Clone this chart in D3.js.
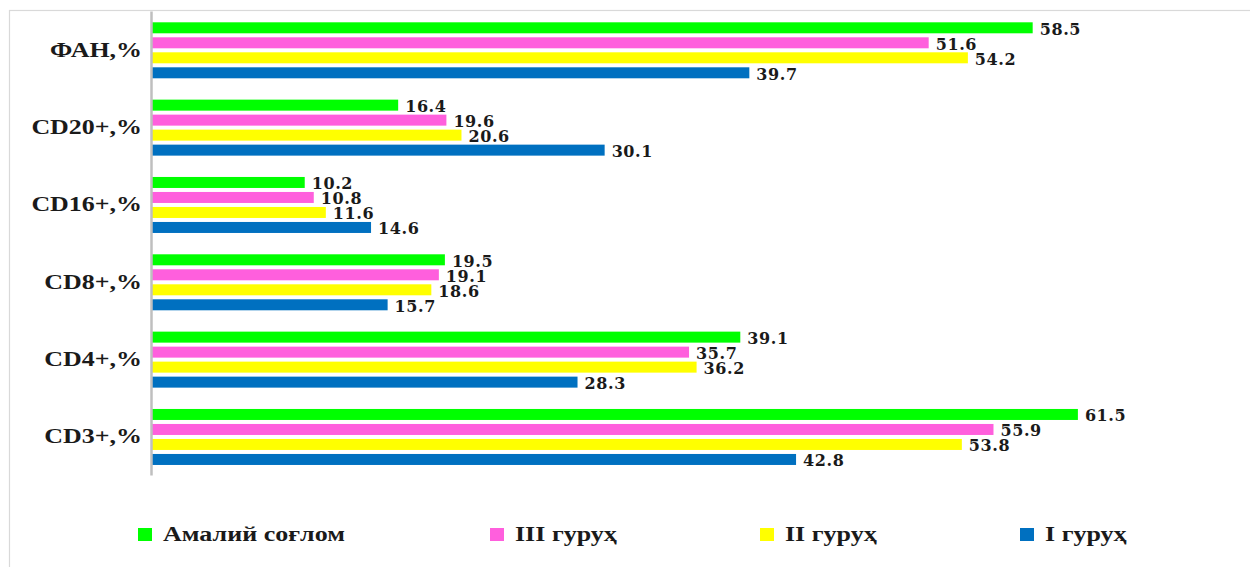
<!DOCTYPE html>
<html>
<head>
<meta charset="utf-8">
<script src="https://cdn.jsdelivr.net/npm/d3@7"></script>
<style>
  html, body { margin: 0; padding: 0; background: #fff; }
  svg { display: block; }
</style>
</head>
<body>
<svg id="chart" width="1250" height="567"></svg>
<script>
// Indicators, listed top to bottom
const categories = ["ФАН,%", "CD20+,%", "CD16+,%", "CD8+,%", "CD4+,%", "CD3+,%"];
// Groups, in the order their bars stack inside each indicator
const seriesNames = ["Амалий соғлом", "III гуруҳ", "II гуруҳ", "I гуруҳ"];
const seriesColors = ["#00FF00", "#FF5FDD", "#FFFF00", "#0070C0"];
// Values per group, aligned with categories
const healthy = [58.5, 16.4, 10.2, 19.5, 39.1, 61.5];
const group3  = [51.6, 19.6, 10.8, 19.1, 35.7, 55.9];
const group2  = [54.2, 20.6, 11.6, 18.6, 36.2, 53.8];
const group1  = [39.7, 30.1, 14.6, 15.7, 28.3, 42.8];
const seriesValues = [healthy, group3, group2, group1];

const svg = d3.select("#chart");

// Outer frame
svg.append("rect")
  .attr("x", 9.5).attr("y", 10.5)
  .attr("width", 1300).attr("height", 600)
  .attr("fill", "none").attr("stroke", "#D9D9D9").attr("stroke-width", 1.2);

const x = d3.scaleLinear().domain([0, 70]).range([151, 1206]);
const y0 = d3.scaleBand().domain(categories).range([11, 475]);
const y1 = d3.scaleBand().domain(seriesNames)
  .range([11.3, 67.3]).paddingInner(4 / 15).paddingOuter(0);

const rows = [];
categories.forEach((c, i) => {
  seriesNames.forEach((s, j) => {
    rows.push({ cat: c, series: s, color: seriesColors[j], value: seriesValues[j][i] });
  });
});

// Bars
svg.append("g").selectAll("rect")
  .data(rows)
  .join("rect")
  .attr("x", x(0))
  .attr("y", d => y0(d.cat) + y1(d.series))
  .attr("width", d => x(d.value) - x(0))
  .attr("height", y1.bandwidth())
  .attr("fill", d => d.color);

// Value labels
svg.append("g").selectAll("text")
  .data(rows)
  .join("text")
  .attr("x", d => x(d.value) + 7)
  .attr("y", d => y0(d.cat) + y1(d.series) + y1.bandwidth() / 2 + 7)
  .attr("font-family", "'DejaVu Serif', serif")
  .attr("font-weight", "bold")
  .attr("font-size", 16)
  .attr("letter-spacing", 0.6)
  .attr("fill", "#1a1a1a")
  .text(d => d.value.toFixed(1));

// Category axis (serif labels drawn slightly widened)
const labelStretch = 1.18;
const labelPad = 9;
const yAxis = d3.axisLeft(y0).tickSize(0).tickPadding(labelPad);
const gAxis = svg.append("g")
  .attr("transform", `translate(${x(0)},0)`)
  .call(yAxis);
gAxis.select(".domain").attr("stroke", "#BFBFBF").attr("stroke-width", 2.5);
gAxis.selectAll(".tick text")
  .attr("x", -labelPad / labelStretch)
  .attr("transform", `scale(${labelStretch},1)`)
  .attr("font-family", "'Liberation Serif', serif")
  .attr("font-weight", "bold")
  .attr("font-size", 22)
  .attr("fill", "#1a1a1a")
  .attr("dy", "0.32em");

// Legend
const legendStretch = 1.24;
const legendX = [138, 490, 760, 1020];
const legend = svg.append("g").selectAll("g")
  .data(seriesNames)
  .join("g")
  .attr("transform", (d, i) => `translate(${legendX[i]},528)`);
legend.append("rect")
  .attr("width", 14).attr("height", 13)
  .attr("fill", (d, i) => seriesColors[i]);
legend.append("text")
  .attr("x", 25 / legendStretch).attr("y", 13)
  .attr("transform", `scale(${legendStretch},1)`)
  .attr("font-family", "'Liberation Serif', serif")
  .attr("font-weight", "bold")
  .attr("font-size", 21)
  .attr("fill", "#1a1a1a")
  .text(d => d);
</script>
</body>
</html>
